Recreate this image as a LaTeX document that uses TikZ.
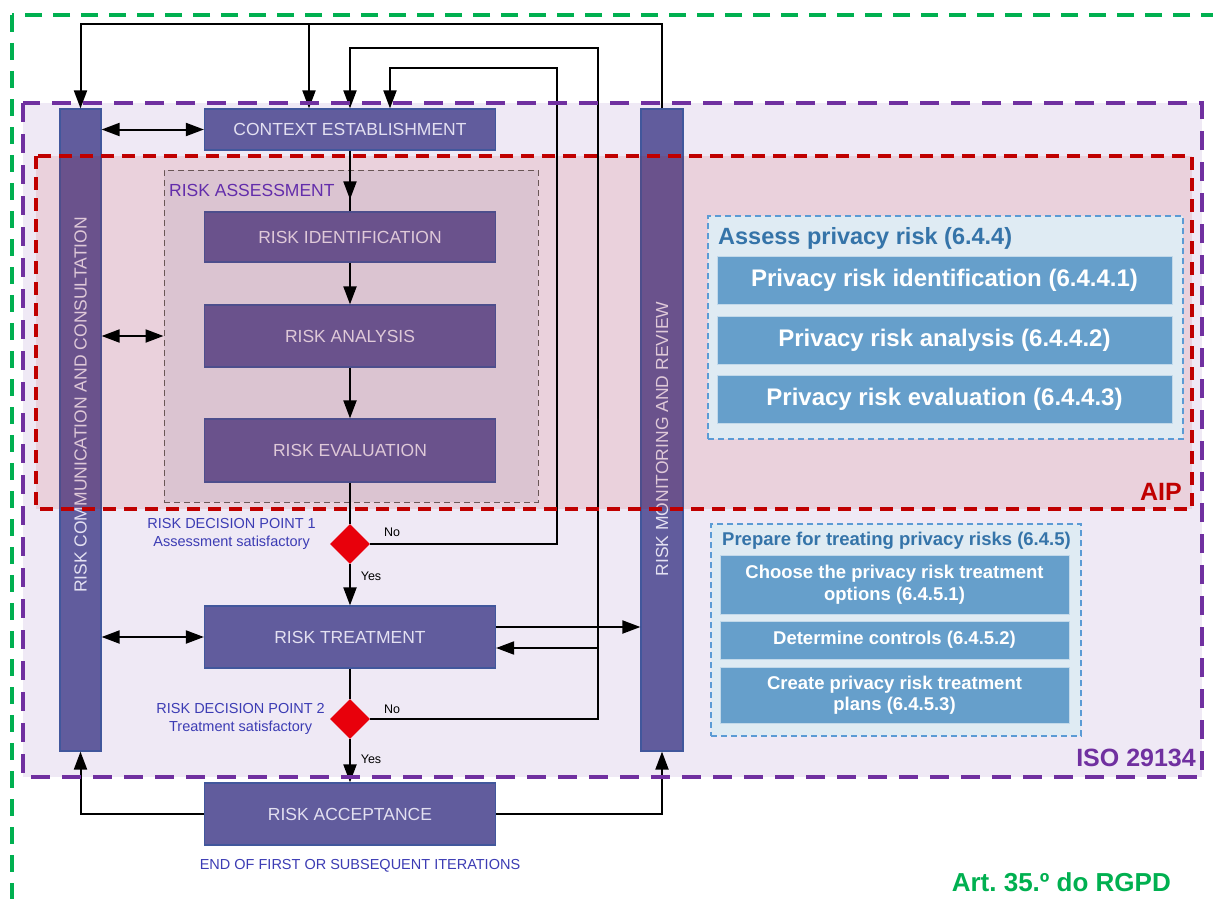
\documentclass[tikz,border=0pt]{standalone}
\usepackage{fontspec}
\setmainfont{Liberation Sans}
\usetikzlibrary{arrows.meta,shapes.geometric,calc}

\definecolor{boxfill}{HTML}{615C9D}
\definecolor{boxline}{HTML}{41579C}
\definecolor{boxtext}{HTML}{E3E0F1}
\definecolor{isofill}{HTML}{EFE9F5}
\definecolor{isoline}{HTML}{7030A0}
\definecolor{aipline}{HTML}{C00000}
\definecolor{rgpd}{HTML}{00B050}
\definecolor{lblue}{HTML}{3C3CB4}
\definecolor{assessfill}{HTML}{DFDBE9}
\definecolor{grpfill}{HTML}{DFEBF3}
\definecolor{grpline}{HTML}{5B9BD5}
\definecolor{grptitle}{HTML}{3574A9}
\definecolor{stepfill}{HTML}{669FCB}
\definecolor{dred}{HTML}{E8000B}

\begin{document}
\begin{tikzpicture}[x=1pt,y=-1pt,
  flow/.style={draw=boxline, fill=boxfill, line width=1.2pt, text=boxtext, inner sep=0pt,
    minimum width=291pt, font=\fontsize{17.5}{21}\selectfont},
  bar/.style={draw=boxline, fill=boxfill, line width=1.2pt, inner sep=0pt,
    minimum width=41pt, minimum height=642pt},
  bartext/.style={rotate=90, text=boxtext, inner sep=0pt, font=\fontsize{17.5}{21}\selectfont},
  decision/.style={diamond, fill=dred, inner sep=0pt, minimum width=40pt, minimum height=40pt},
  line/.style={line width=2pt, black},
  tip/.tip={Triangle[length=18pt,width=13pt]},
  arr/.style={line, -tip},
  darr/.style={line, tip-tip},
  lbl/.style={text=lblue, font=\fontsize{14.5}{18}\selectfont, align=center, inner sep=0pt},
  yn/.style={font=\fontsize{12.5}{14}\selectfont, inner sep=0pt},
  grp/.style={draw=grpline, fill=grpfill, dash pattern=on 6pt off 4pt, line width=1.2pt, inner sep=0pt},
  grptitle/.style={anchor=west, text=grptitle, inner sep=0pt},
  stepbox/.style={fill=stepfill, draw=white!60!stepfill, line width=1pt, text=white, inner sep=0pt,
    align=center, font=\bfseries\fontsize{18.5}{21.5}\selectfont},
  bigstep/.style={stepbox, font=\bfseries\fontsize{24}{28}\selectfont},
]
\clip (0,0) rectangle (1213,899);
\fill[white] (0,0) rectangle (1213,899);

% ISO 29134 region background
\fill[isofill] (23,103) rectangle (1202,777);

% side bars
\node[bar] (lcol) at (80.5,430) {};
\node[bar, minimum width=42pt] (rcol) at (662,430) {};
\node[bartext] (lcoltxt) at (80.5,405) {RISK COMMUNICATION AND CONSULTATION};
\node[bartext] (rcoltxt) at (662,439) {RISK MONITORING AND REVIEW};

% risk assessment frame
\node[draw=gray!75!black, fill=assessfill, dash pattern=on 6pt off 4pt, line width=1pt,
  inner sep=0pt, minimum width=374pt, minimum height=332pt] (assess) at (351,336) {};
\node[anchor=west, text=lblue!85!magenta, inner sep=0pt, font=\fontsize{17.5}{21}\selectfont]
  (assesslbl) at (169,190) {RISK ASSESSMENT};

% process steps
\node[flow, minimum height=41pt] (ctx) at (350,129.5) {CONTEXT ESTABLISHMENT};
\node[flow, minimum height=50pt] (ident) at (350,237) {RISK IDENTIFICATION};
\node[flow, minimum height=62pt] (anal) at (350,336) {RISK ANALYSIS};
\node[flow, minimum height=63pt] (eval) at (350,450.5) {RISK EVALUATION};
\node[flow, minimum height=62pt] (treat) at (350,637) {RISK TREATMENT};
\node[flow, minimum height=62pt] (accept) at (350,814) {RISK ACCEPTANCE};

% decision points
\node[decision] (d1) at (350,544) {};
\node[decision] (d2) at (350,719) {};
\node[lbl, anchor=east] (d1lbl) at (316,534) {RISK DECISION POINT 1\\Assessment satisfactory};
\node[lbl, anchor=east] (d2lbl) at (325,719) {RISK DECISION POINT 2\\Treatment satisfactory};
\node[lbl] (endlbl) at (360,866) {END OF FIRST OR SUBSEQUENT ITERATIONS};
\node[yn] (no1) at (392,532) {No};
\node[yn] (yes1) at (371,576) {Yes};
\node[yn] (no2) at (392,709) {No};
\node[yn] (yes2) at (371,759) {Yes};

% AIP region tint
\fill[aipline, opacity=0.1] (36,156) rectangle (1192,509);

% bend points of the feedback loops
\coordinate (in1) at ($(ctx.north)+(-41,0)$);
\coordinate (in3) at ($(ctx.north)+(40,0)$);
\coordinate (t1) at ($(in1)+(0,-84)$);
\coordinate (n2) at (598,48);
\coordinate (n3) at (557,68);
\coordinate (r2) at (598,648);
\coordinate (tin) at ($(treat.east)+(0,11)$);
\coordinate (tout) at ($(treat.east)+(0,-10)$);

% main flow
\draw[line] (ctx.south) -- (ident.north);
\draw[arr] (ctx.south) -- ($(ident.north)+(0,-12)$);
\draw[arr] (ident) -- (anal);
\draw[arr] (anal) -- (eval);
\draw[line] (eval) -- (d1);
\draw[arr] (d1) -- (treat);
\draw[line] (treat) -- (d2);
\draw[arr] (d2) -- (accept);

% communication links
\draw[darr] (lcol.east |- ctx) -- (ctx.west);
\draw[darr] (lcol.east |- assess) -- (assess.west);
\draw[darr] (lcol.east |- treat) -- (treat.west);

% monitoring and feedback loops
\draw[arr] (rcol.north) -- ++(0,-84) -| (lcol.north);
\draw[arr] (t1) -- (in1);
\draw[arr] (d2.east) -| (n2) -| (ctx.north);
\draw[arr] (d1.east) -| (n3) -| (in3);
\draw[arr] (r2) -- (tin);
\draw[arr] (tout) -- (tout -| rcol.west);
\draw[arr] (accept.west) -| (lcol.south);
\draw[arr] (accept.east) -| (rcol.south);

% region borders
\draw[aipline, line width=4pt, dash pattern=on 13pt off 8pt] (36,156) rectangle (1192,509);
\draw[isoline, line width=4pt, dash pattern=on 19pt off 12pt] (23,103) rectangle (1202,777);
\draw[rgpd, line width=4pt, dash pattern=on 17pt off 11pt] (12,15) rectangle (1240,930);

% ISO 29134 assessment steps
\node[grp, minimum width=475pt, minimum height=223pt] (g1) at (945.5,327.5) {};
\node[grptitle, font=\bfseries\fontsize{23.5}{28}\selectfont] (g1t) at (718,238) {Assess privacy risk (6.4.4)};
\node[bigstep, minimum width=455pt, minimum height=48pt] (s1) at (944.5,280) {Privacy risk identification (6.4.4.1)};
\node[bigstep, minimum width=455pt, minimum height=48pt] (s2) at (944.5,340) {Privacy risk analysis (6.4.4.2)};
\node[bigstep, minimum width=455pt, minimum height=48pt] (s3) at (944.5,399) {Privacy risk evaluation (6.4.4.3)};

% ISO 29134 treatment preparation
\node[grp, minimum width=370pt, minimum height=212pt] (g2) at (896,630) {};
\node[grptitle, font=\bfseries\fontsize{18.5}{22}\selectfont] (g2t) at (722,541) {Prepare for treating privacy risks (6.4.5)};
\node[stepbox, minimum width=349pt, minimum height=59pt] (p1) at (894.5,584.5) {Choose the privacy risk treatment\\options (6.4.5.1)};
\node[stepbox, minimum width=349pt, minimum height=38pt] (p2) at (894.5,640) {Determine controls (6.4.5.2)};
\node[stepbox, minimum width=349pt, minimum height=56pt] (p3) at (894.5,695) {Create privacy risk treatment\\plans (6.4.5.3)};

% region captions
\node[anchor=east, text=aipline, inner sep=0pt, font=\bfseries\fontsize{25}{30}\selectfont] (aip) at (1182,492) {AIP};
\node[anchor=east, text=isoline, inner sep=0pt, font=\bfseries\fontsize{25}{30}\selectfont] (iso) at (1196,758) {ISO 29134};
\node[anchor=east, text=rgpd, inner sep=0pt, font=\bfseries\fontsize{26}{30}\selectfont] (art) at (1171,882) {Art.\ 35.º do RGPD};
\end{tikzpicture}
\end{document}
